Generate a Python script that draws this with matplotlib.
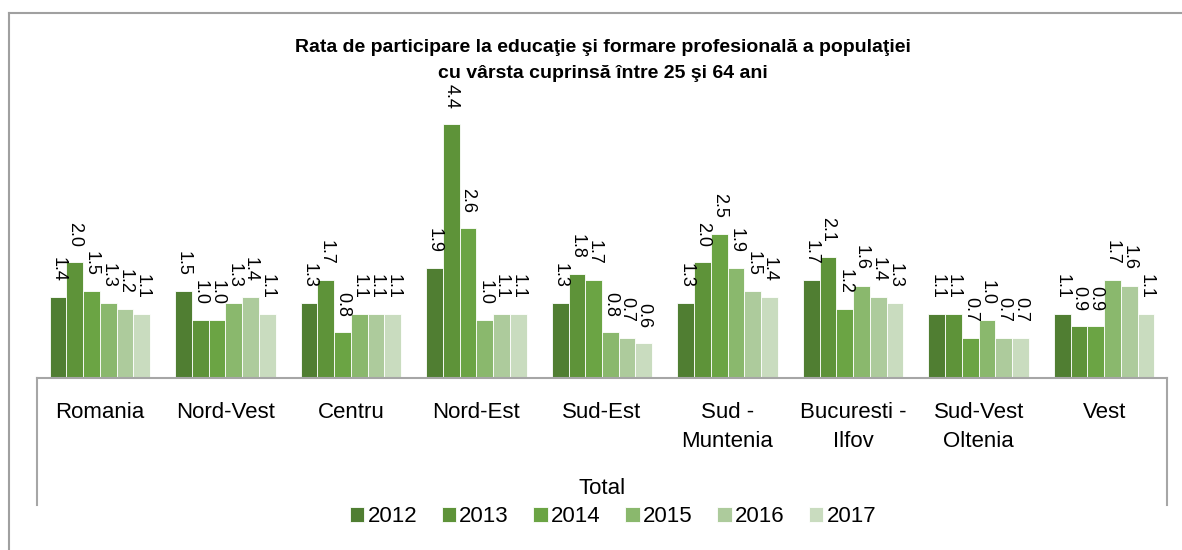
import numpy as np
import matplotlib.pyplot as plt
from matplotlib.lines import Line2D

plt.rcParams['font.family'] = ['Liberation Sans', 'DejaVu Sans']

regions = ['Romania', 'Nord-Vest', 'Centru', 'Nord-Est', 'Sud-Est',
           'Sud -\nMuntenia', 'Bucuresti -\nIlfov', 'Sud-Vest\nOltenia', 'Vest']
years = ['2012', '2013', '2014', '2015', '2016', '2017']

# participation rate per region, one list per year
v2012 = [1.4, 1.5, 1.3, 1.9, 1.3, 1.3, 1.7, 1.1, 1.1]
v2013 = [2.0, 1.0, 1.7, 4.4, 1.8, 2.0, 2.1, 1.1, 0.9]
v2014 = [1.5, 1.0, 0.8, 2.6, 1.7, 2.5, 1.2, 0.7, 0.9]
v2015 = [1.3, 1.3, 1.1, 1.0, 0.8, 1.9, 1.6, 1.0, 1.7]
v2016 = [1.2, 1.4, 1.1, 1.1, 0.7, 1.5, 1.4, 0.7, 1.6]
v2017 = [1.1, 1.1, 1.1, 1.1, 0.6, 1.4, 1.3, 0.7, 1.1]
series = [v2012, v2013, v2014, v2015, v2016, v2017]

colors = ['#507e32', '#5e9339', '#6ba444', '#8ab86d', '#adcb9c', '#c9dcbf']

fig = plt.figure(figsize=(11.82, 5.50), dpi=100)
W, H = 1182, 550
ax = fig.add_axes([37 / W, 1 - 378 / H, (1167 - 37) / W, (378 - 95) / H])

x = np.arange(len(regions))
bw = 0.8 / len(series)
for i, vals in enumerate(series):
    pos = x - 0.4 + bw * (i + 0.5)
    ax.bar(pos, vals, bw, color=colors[i], edgecolor='white',
           linewidth=0.6, label=years[i])
    for xp, v in zip(pos, vals):
        ax.annotate(f'{v:.1f}', (xp, v), xytext=(0, 11), textcoords='offset points',
                    rotation=270, ha='center', va='bottom', fontsize=13)

ax.set_xlim(-0.5, len(regions) - 0.5)
ax.set_ylim(0, 4.9)
ax.set_yticks([])
for s in ['left', 'right', 'top']:
    ax.spines[s].set_visible(False)
ax.spines['bottom'].set_color('#a6a6a6')
ax.spines['bottom'].set_linewidth(1.5)
ax.set_xticks(x)
ax.set_xticklabels(regions, fontsize=16, linespacing=1.5)
ax.tick_params(axis='x', length=0, pad=17)

# grouping box under the category axis
for px in (37, 1167):
    fig.add_artist(Line2D([px / W, px / W], [1 - 378 / H, 1 - 505 / H],
                          color='#a6a6a6', lw=1.5))
# outer chart frame
fig.add_artist(Line2D([9 / W, 9 / W], [0, 1 - 13 / H], color='#a0a0a0', lw=1.5))
fig.add_artist(Line2D([9 / W, 1], [1 - 13 / H, 1 - 13 / H], color='#a0a0a0', lw=1.5))

fig.text(603 / W, 1 - 48 / H,
         'Rata de participare la educaţie şi formare profesională a populaţiei',
         ha='center', va='center', fontsize=14, fontweight='bold')
fig.text(603 / W, 1 - 73 / H, 'cu vârsta cuprinsă între 25 şi 64 ani',
         ha='center', va='center', fontsize=14, fontweight='bold')
fig.text(602 / W, 1 - 488 / H, 'Total', ha='center', va='center', fontsize=16)

fig.legend(loc='center', bbox_to_anchor=(613 / W, 1 - 517 / H), ncol=6,
           frameon=False, fontsize=16, handlelength=0.65, handleheight=0.65,
           handletextpad=0.15, columnspacing=1.1, borderpad=0)

plt.savefig('out.png', dpi=100)
